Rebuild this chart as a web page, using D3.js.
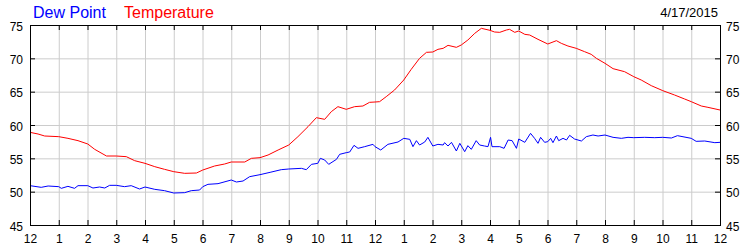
<!DOCTYPE html>
<html>
<head>
<meta charset="utf-8">
<script src="https://cdn.jsdelivr.net/npm/d3@7"></script>
<style>
  body { margin: 0; background: #fff; }
  svg { display: block; font-family: "Liberation Sans", Arial, sans-serif; }
  .grid line { stroke: #cccccc; }
  .grid .domain { display: none; }
  .axis .domain { display: none; }
  .axis line { stroke: #000; }
  .axis text { font-size: 12px; fill: #000; }
</style>
</head>
<body>
<svg id="chart"></svg>
<script>
// hour ticks and their labels
var hourTicks = d3.range(0, 25);
var hourLabels = ["12","1","2","3","4","5","6","7","8","9","10","11",
                  "12","1","2","3","4","5","6","7","8","9","10","11","12"];
var tempTicks = [45, 50, 55, 60, 65, 70, 75];
var dateLabel = "4/17/2015";

// Temperature readings (hour of day, deg F)
var tempHours = [0.00,0.28,0.51,1.00,1.32,1.67,2.01,2.25,2.66,3.00,3.35,3.64,4.00,4.34,4.68,5.00,5.38,5.79,6.01,6.42,6.77,7.00,7.47,7.70,8.00,
  8.28,8.63,9.00,9.32,9.67,9.96,10.25,10.48,10.71,11.00,11.29,11.58,11.81,12.00,12.16,12.39,12.68,13.00,13.26,13.55,13.79,14.01,14.19,14.37,14.54,14.83,15.00,15.23,15.47,15.70,16.00,
  16.16,16.34,16.57,16.68,16.86,17.00,17.21,17.38,17.67,18.01,18.31,18.48,18.71,19.00,19.29,19.52,19.70,20.00,20.28,20.68,21.00,21.26,21.61,22.01,22.42,22.77,23.00,23.35,23.58,24.00];
var tempValues = [58.9,58.65,58.35,58.25,58.0,57.65,57.15,56.35,55.35,55.35,55.25,54.65,54.25,53.75,53.35,53.0,52.75,52.8,53.25,53.85,54.15,54.45,54.45,55.0,55.1,
  55.5,56.25,57.0,58.25,59.75,61.1,60.85,62.0,62.75,62.35,62.75,62.85,63.4,63.45,63.5,64.25,65.25,66.75,68.35,70.0,70.9,70.95,71.35,71.5,71.95,71.65,72.0,72.75,73.75,74.5,74.2,
  73.95,73.9,74.25,74.35,73.9,74.1,73.6,73.5,72.85,72.15,72.65,72.25,71.85,71.5,71.0,70.6,70.0,69.25,68.45,68.0,67.25,66.75,65.9,65.15,64.5,63.9,63.5,62.85,62.65,62.25];

// Dew point readings (hour of day, deg F)
var dewHours = [0.00,0.39,0.63,1.00,1.09,1.32,1.55,1.67,2.01,2.19,2.42,2.60,2.77,3.00,3.29,3.52,3.81,4.00,4.34,4.68,5.00,5.38,5.61,5.90,6.01,6.19,6.54,7.00,7.18,7.41,7.64,8.00,
  8.35,8.74,9.00,9.44,9.61,9.79,10.01,10.10,10.25,10.39,10.66,10.77,11.00,11.12,11.27,11.41,11.64,11.93,12.00,12.20,12.45,12.80,13.00,13.21,13.32,13.44,13.55,13.73,13.84,
  14.01,14.19,14.37,14.42,14.54,14.66,14.83,14.95,15.12,15.23,15.35,15.52,15.64,15.81,15.93,16.02,
  16.07,16.34,16.49,16.63,16.77,16.92,17.00,17.21,17.41,17.55,17.67,17.76,17.90,18.01,18.11,18.19,18.31,18.39,18.54,18.66,18.77,18.94,
  19.18,19.35,19.58,19.76,20.00,20.28,20.57,20.80,21.00,21.38,21.73,22.01,22.31,22.52,23.00,23.17,23.47,23.82,24.00];
var dewValues = [50.9,50.65,50.85,50.75,50.5,50.8,50.5,50.9,50.9,50.55,50.7,50.55,50.95,50.95,50.75,50.9,50.4,50.7,50.35,50.15,49.8,49.85,50.15,50.25,50.75,51.1,51.2,51.75,51.45,51.6,52.25,52.55,
  52.9,53.3,53.4,53.5,53.3,54.1,54.25,55.0,54.75,54.1,54.85,55.6,55.85,55.95,56.95,56.5,56.75,57.1,56.75,56.25,57.1,57.45,58.0,57.85,56.75,57.65,57.0,57.45,58.15,
  56.85,57.1,57.0,57.35,56.85,57.4,56.1,57.25,56.0,56.9,56.35,57.65,57.0,56.85,56.75,58.15,
  56.75,56.75,56.5,57.75,57.65,56.5,57.9,57.4,58.75,58.0,57.25,58.15,57.4,57.5,58.0,57.35,58.35,57.65,58.0,57.75,58.45,57.9,
  57.6,58.25,58.5,58.35,58.5,58.15,58.0,58.15,58.1,58.15,58.1,58.15,58.05,58.4,58.0,57.55,57.6,57.35,57.4];

var svgWidth = 750, svgHeight = 250;
var margin = { top: 25, right: 30, bottom: 25, left: 30 };
var width = svgWidth - margin.left - margin.right;
var height = svgHeight - margin.top - margin.bottom;

var svg = d3.select("#chart")
  .attr("width", svgWidth)
  .attr("height", svgHeight);

var chart = svg.append("g")
  .attr("transform", "translate(" + margin.left + "," + margin.top + ")");

var x = d3.scaleLinear().domain([0, 24]).range([0, width]);
var y = d3.scaleLinear().domain([45, 75]).range([height, 0]);

// grid lines
chart.append("g")
  .attr("class", "grid")
  .attr("transform", "translate(0," + height + ")")
  .call(d3.axisBottom(x).tickValues(hourTicks).tickSize(-height).tickFormat(""));
chart.append("g")
  .attr("class", "grid")
  .call(d3.axisLeft(y).tickValues(tempTicks).tickSize(-width).tickFormat(""));

// lines
var tempData = tempHours.map(function (h, i) { return { h: h, v: tempValues[i] }; });
var dewData = dewHours.map(function (h, i) { return { h: h, v: dewValues[i] }; });
var line = d3.line()
  .x(function (d) { return x(d.h); })
  .y(function (d) { return y(d.v); });

chart.append("path")
  .datum(tempData)
  .attr("fill", "none")
  .attr("stroke", "#ff0000")
  .attr("stroke-width", 1)
  .attr("d", line);

chart.append("path")
  .datum(dewData)
  .attr("fill", "none")
  .attr("stroke", "#0000ff")
  .attr("stroke-width", 1)
  .attr("d", line);

// axes with inside ticks
var bottomAxis = chart.append("g")
  .attr("class", "axis")
  .attr("transform", "translate(0," + height + ")")
  .call(d3.axisBottom(x).tickValues(hourTicks).tickSizeInner(-5).tickSizeOuter(0)
    .tickFormat(function (d, i) { return hourLabels[i]; }));
bottomAxis.selectAll("text").attr("y", 9).attr("dy", "0.71em");

chart.append("g")
  .attr("class", "axis")
  .call(d3.axisTop(x).tickValues(hourTicks).tickSizeInner(-5).tickSizeOuter(0).tickFormat(""));

var leftAxis = chart.append("g")
  .attr("class", "axis")
  .call(d3.axisLeft(y).tickValues(tempTicks).tickSizeInner(-5).tickSizeOuter(0));
leftAxis.selectAll("text").attr("x", -7).attr("dy", "0.42em");

var rightAxis = chart.append("g")
  .attr("class", "axis")
  .attr("transform", "translate(" + width + ",0)")
  .call(d3.axisRight(y).tickValues(tempTicks).tickSizeInner(-5).tickSizeOuter(0));
rightAxis.selectAll("text").attr("x", 6).attr("dy", "0.42em");

// frame
chart.append("rect")
  .attr("x", 0.5).attr("y", 0.5)
  .attr("width", width).attr("height", height)
  .attr("fill", "none")
  .attr("stroke", "#000")
  .attr("stroke-width", 1);

// legend and date
svg.append("text")
  .attr("x", 33).attr("y", 18)
  .attr("font-size", "16px")
  .attr("fill", "#0000ff")
  .text("Dew Point");
svg.append("text")
  .attr("x", 124).attr("y", 18)
  .attr("font-size", "16px")
  .attr("fill", "#ff0000")
  .text("Temperature");
svg.append("text")
  .attr("x", 718).attr("y", 17)
  .attr("text-anchor", "end")
  .attr("font-size", "13px")
  .attr("fill", "#000")
  .text(dateLabel);
</script>
</body>
</html>
